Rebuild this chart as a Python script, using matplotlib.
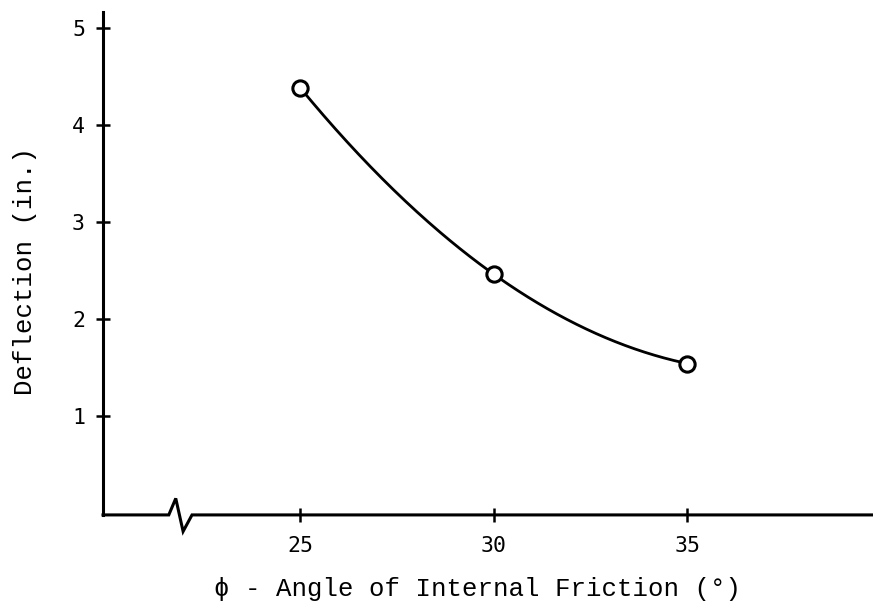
import numpy as np
import matplotlib.pyplot as plt

# friction angle (deg) vs deflection (in.)
phi = [25, 30, 35]
deflection = [4.38, 2.46, 1.54]
x_ticks = [25, 30, 35]
y_ticks = [1, 2, 3, 4, 5]

fig = plt.figure(figsize=(8.73, 6.13), dpi=100)
ax = fig.add_axes([0.118, 0.160, 0.882, 0.820])

# smooth curve drawn through the measured points
coef = np.polyfit(phi, deflection, 2)
xs = np.linspace(phi[0], phi[-1], 200)
ax.plot(xs, np.polyval(coef, xs), color='black', lw=2.0, zorder=2)
ax.plot(phi, deflection, 'o', ms=11, mfc='white', mec='black', mew=2.2, zorder=3)

ax.set_xlim(19.9, 39.8)
ax.set_ylim(-0.02, 5.16)

for s in ['top', 'right', 'bottom']:
    ax.spines[s].set_visible(False)
ax.spines['left'].set_linewidth(2.2)

# x axis with a break near the origin
bx = [19.9, 21.6, 21.78, 21.97, 22.2, 39.8]
by = [-0.02, -0.02, 0.15, -0.19, -0.02, -0.02]
ax.plot(bx, by, color='black', lw=2.2, clip_on=False, solid_joinstyle='miter', zorder=4)

ax.set_xticks(x_ticks)
ax.set_yticks(y_ticks)
ax.tick_params(axis='both', direction='inout', length=10, width=1.8, labelsize=15.5)
ax.tick_params(axis='x', pad=10)
ax.tick_params(axis='y', pad=8)
for lab in ax.get_xticklabels() + ax.get_yticklabels():
    lab.set_family('DejaVu Sans Mono')

ax.set_xlabel('\u03d5 - Angle of Internal Friction (\u00b0)', family='Liberation Mono',
              fontsize=18.5)
ax.set_ylabel('Deflection (in.)', family='Liberation Mono', fontsize=18.5)
ax.xaxis.set_label_coords(0.486, -0.123)
ax.yaxis.set_label_coords(-0.086, 0.485)

fig.savefig('out.png', dpi=100)
